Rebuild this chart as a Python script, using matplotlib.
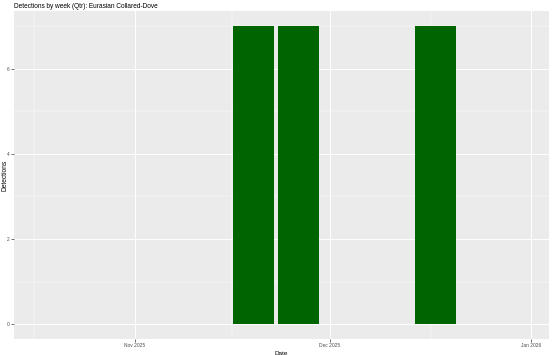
import matplotlib.pyplot as plt
import matplotlib.dates as mdates
import numpy as np
import pandas as pd

plt.rcParams['font.family'] = ['Liberation Sans', 'DejaVu Sans']

week = pd.to_datetime(["2025-11-19", "2025-11-26", "2025-12-17"])
detections = [7, 7, 7]

bar_width = 6.3  # days
x_lo = pd.Timestamp("2025-10-13 10:00")
x_hi = pd.Timestamp("2026-01-03 17:00")

fig = plt.figure(figsize=(5.53, 3.55), dpi=100)
ax = fig.add_axes([0.0253, 0.045, 0.9675, 0.924])
ax.set_facecolor("#EBEBEB")

ax.bar(week + pd.Timedelta(hours=5), detections, width=bar_width, color="#006400", zorder=3)

ax.set_xlim(x_lo, x_hi)
ax.set_ylim(-0.35, 7.35)

major_x = pd.to_datetime(["2025-11-01", "2025-12-01", "2026-01-01"])
minor_x = pd.to_datetime(["2025-10-16 12:00", "2025-11-16 00:00", "2025-12-16 12:00"])
ax.set_xticks(major_x)
ax.set_xticklabels(["Nov 2025", "Dec 2025", "Jan 2026"])
ax.set_xticks(minor_x, minor=True)
ax.set_yticks([0, 2, 4, 6])
ax.set_yticks([1, 3, 5, 7], minor=True)

ax.grid(which="major", color="white", linewidth=0.7, zorder=0)
ax.grid(which="minor", color="white", linewidth=0.35, zorder=0)
ax.set_axisbelow(True)

for s in ax.spines.values():
    s.set_visible(False)

ax.tick_params(which="major", length=2, width=0.5, color="#333333",
               labelsize=3.5, labelcolor="#4D4D4D", pad=1.2)
ax.tick_params(which="minor", length=0)

ax.set_xlabel("Date", fontsize=4.6, labelpad=1.5)
ax.set_ylabel("Detections", fontsize=4.8, va="center")
ax.yaxis.set_label_coords(-0.0165, 0.5)
fig.text(0.0253, 0.983, "Detections by week (Qtr): Eurasian Collared-Dove",
         fontsize=4.7, va="center", ha="left")

fig.savefig("out.png", dpi=100)
